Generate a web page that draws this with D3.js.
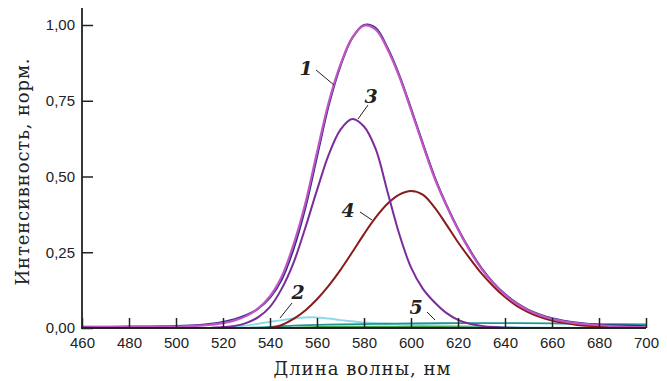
<!DOCTYPE html>
<html><head><meta charset="utf-8">
<script src="https://cdn.jsdelivr.net/npm/d3@7"></script>
<style>body{margin:0;background:#fff;} svg{display:block;}</style>
</head><body>
<svg id="c" width="667" height="381"></svg>
<script>
// Wavelength grid (nm) and series (normalized intensity)
const xTicks = [460,480,500,520,540,560,580,600,620,640,660,680,700];
const yTicks = [0,0.25,0.5,0.75,1.0];

// 1: total measured spectrum (data, dark blue)
const curve1Data = [[460,0.004],[480,0.005],[500,0.007],[510,0.010],[515,0.014],[520,0.020],[525,0.029],[530,0.043],[535,0.064],[540,0.100],[545,0.160],[550,0.260],[555,0.395],[560,0.565],[565,0.735],[570,0.865],[575,0.957],[580,1.000],[585,0.990],[590,0.925],[595,0.835],[600,0.725],[605,0.610],[610,0.500],[615,0.408],[620,0.328],[625,0.258],[630,0.198],[635,0.150],[640,0.112],[645,0.082],[650,0.060],[655,0.044],[660,0.032],[665,0.024],[670,0.018],[680,0.011],[690,0.008],[700,0.006]];
// 1: fitted sum (magenta)
const curve1Fit = [[460,0.002],[470,0.003],[480,0.003],[490,0.004],[500,0.005],[505,0.006],[510,0.008],[515,0.011],[520,0.016],[525,0.025],[530,0.040],[535,0.065],[540,0.105],[545,0.170],[550,0.275],[555,0.410],[560,0.580],[565,0.745],[570,0.870],[575,0.958],[580,0.998],[585,0.985],[590,0.920],[595,0.830],[600,0.720],[605,0.605],[610,0.495],[615,0.405],[620,0.325],[625,0.255],[630,0.195],[635,0.148],[640,0.110],[645,0.080],[650,0.058],[655,0.042],[660,0.030],[665,0.022],[670,0.016],[680,0.009],[690,0.005],[700,0.003]];
// 2: small cyan band
const curve2 = [[520,0.000],[525,0.003],[530,0.008],[535,0.014],[540,0.020],[545,0.026],[550,0.031],[555,0.035],[560,0.035],[565,0.031],[570,0.026],[575,0.022],[580,0.018],[590,0.014],[600,0.011],[610,0.009],[620,0.007],[630,0.005],[640,0.003],[660,0.001],[700,0.000]];
// 3: purple band
const curve3 = [[515,0.001],[520,0.003],[525,0.007],[530,0.017],[535,0.036],[540,0.070],[545,0.130],[550,0.215],[555,0.330],[560,0.455],[565,0.572],[570,0.655],[575,0.690],[580,0.665],[585,0.590],[590,0.450],[595,0.310],[600,0.200],[605,0.130],[610,0.085],[615,0.050],[620,0.027],[625,0.014],[630,0.007],[635,0.003],[640,0.001],[650,0.000],[670,0.000]];
// 4: dark red band
const curve4 = [[540,0.000],[545,0.010],[550,0.030],[555,0.058],[560,0.095],[565,0.140],[570,0.192],[575,0.250],[580,0.310],[585,0.365],[590,0.410],[595,0.440],[600,0.452],[605,0.440],[610,0.398],[615,0.342],[620,0.283],[625,0.230],[630,0.180],[635,0.138],[640,0.102],[645,0.073],[650,0.052],[655,0.036],[660,0.025],[665,0.017],[670,0.011],[680,0.005],[690,0.002],[700,0.000]];
// 5: teal band
const curve5 = [[530,0.000],[540,0.004],[550,0.008],[560,0.010],[570,0.012],[580,0.013],[590,0.014],[600,0.015],[620,0.016],[640,0.016],[660,0.015],[680,0.013],[700,0.012]];
// green baseline component
const curveG = [[550,0.001],[560,0.004],[570,0.005],[580,0.005],[590,0.005],[600,0.005],[610,0.004],[620,0.003],[640,0.001]];

const labels = [
  {t:"1", lx:306, ly:68, x1:316, y1:70, x2:334, y2:85},
  {t:"3", lx:371, ly:96, x1:368, y1:105, x2:358, y2:119},
  {t:"4", lx:348, ly:210, x1:360, y1:212, x2:372, y2:220},
  {t:"2", lx:298, ly:292, x1:292, y1:303, x2:280, y2:318},
  {t:"5", lx:416, ly:307, x1:427, y1:312, x2:435, y2:320}
];

const svg = d3.select("#c");
const x = d3.scaleLinear().domain([460,700]).range([82,646]);
const y = d3.scaleLinear().domain([0,1]).range([328,25]);

const line = d3.line().x(d=>x(d[0])).y(d=>y(d[1])).curve(d3.curveCatmullRom.alpha(0.5));

function draw(data,color,w){
  svg.append("path").datum(data).attr("d",line).attr("fill","none")
    .attr("stroke",color).attr("stroke-width",w).attr("stroke-linejoin","round");
}
draw(curve2,"#8fd9e6",2);
draw(curveG,"#4c9f50",1.6);
draw(curve5,"#1f9690",1.8);
draw(curve4,"#8a1b1b",2);
draw(curve3,"#7a2c9a",2);
draw(curve1Data,"#2c2c88",2);
draw(curve1Fit,"#c254c4",2.2);

// axes
const fmt = d => d.toFixed(2).replace(".",",");
const gy = svg.append("g").attr("transform","translate(82,0)")
  .call(d3.axisLeft(y).tickValues(yTicks).tickFormat(fmt).tickSize(-11).tickPadding(7));
const gx = svg.append("g").attr("transform","translate(0,328)")
  .call(d3.axisBottom(x).tickValues(xTicks).tickFormat(d3.format("d")).tickSize(-10).tickPadding(9));
[gx,gy].forEach(g=>{
  g.select(".domain").remove();
  g.selectAll(".tick line").attr("stroke","#222").attr("stroke-width",1.5);
  g.selectAll("text").attr("fill","#222").style("font-family","'Liberation Sans', Arial, sans-serif").style("font-size","15px");
});
svg.append("line").attr("x1",82).attr("x2",82).attr("y1",y(1.056)).attr("y2",329).attr("stroke","#222").attr("stroke-width",1.8);
svg.append("line").attr("x1",81).attr("x2",646).attr("y1",328).attr("y2",328).attr("stroke","#222").attr("stroke-width",1.8);

// axis titles
svg.append("text").attr("x",362).attr("y",375).attr("text-anchor","middle")
  .attr("textLength",177).attr("lengthAdjust","spacing")
  .style("font-family","'DejaVu Serif', serif").style("font-size","18px").attr("fill","#222")
  .text("Длина волны, нм");
svg.append("text").attr("transform","translate(29,172) rotate(-90)").attr("text-anchor","middle")
  .attr("textLength",227).attr("lengthAdjust","spacing")
  .style("font-family","'DejaVu Serif', serif").style("font-size","18px").attr("fill","#222")
  .text("Интенсивность, норм.");

// curve labels
labels.forEach(l=>{
  svg.append("line").attr("x1",l.x1).attr("y1",l.y1).attr("x2",l.x2).attr("y2",l.y2)
    .attr("stroke","#222").attr("stroke-width",1);
  svg.append("text").attr("x",l.lx).attr("y",l.ly).attr("text-anchor","middle").attr("dy","0.35em")
    .style("font-family","'DejaVu Serif', serif").style("font-style","italic").style("font-weight","bold")
    .style("font-size","19px").attr("fill","#222").text(l.t);
});
</script>
</body></html>
